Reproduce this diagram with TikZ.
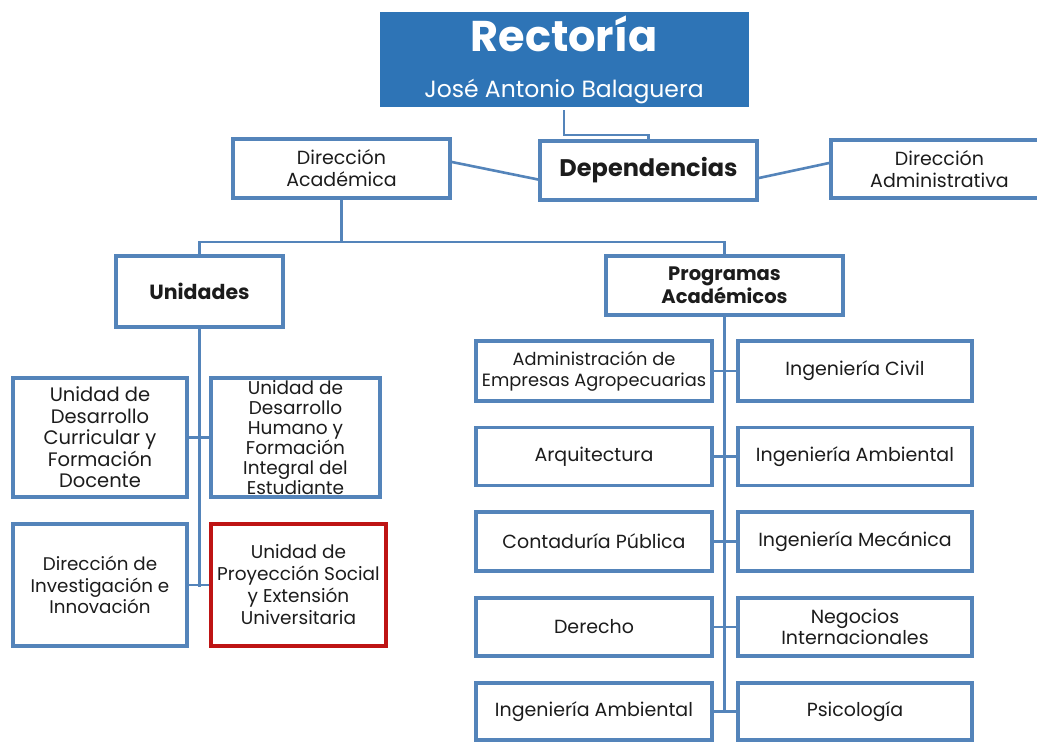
\documentclass[tikz,border=0pt]{standalone}
\usepackage{fontspec}
\setmainfont{Poppins}
\usetikzlibrary{shadows}
\definecolor{boxblue}{RGB}{84,132,186}
\definecolor{rectblue}{RGB}{46,116,182}
\definecolor{redbox}{RGB}{190,20,20}
\definecolor{txt}{RGB}{28,28,28}
\tikzset{
  box/.style={draw=boxblue, line width=3.8pt, fill=white, inner sep=1pt, align=center,
    text=txt, font=\fontsize{19}{21}\selectfont,
    drop shadow={shadow xshift=1.2pt, shadow yshift=-1.5pt, opacity=0.25, fill=black!60}},
  link/.style={draw=boxblue, line width=2.6pt},
}
\begin{document}
\begin{tikzpicture}[x=1pt,y=-1pt]
\fill[white] (0,0) rectangle (1037,742);
\useasboundingbox (0,0) rectangle (1037,742);

% connectors (behind boxes)
\coordinate (rbend) at (564,135);
\coordinate (hub) at (341.5,242);
\coordinate (uend) at (199.5,587);
\coordinate (pend) at (724.5,711.5);
\coordinate (rs) at (564,108);
\coordinate (dn) at (648.5,141);
\coordinate (dcs) at (341.5,198);
\coordinate (un) at (199.5,256);
\coordinate (pn) at (724.5,256);
\path[link] (rs) -- (rbend) -| (dn);
\path[link] (dcs) -- (hub);
\path[link] (un) |- (hub) -| (pn);
\path[link] (un) -- (uend);
\path[link] (pn) -- (pend);

% top
\node[draw=white, line width=3pt, fill=rectblue, minimum width=372pt, minimum height=98pt,
  inner sep=0pt, drop shadow={shadow xshift=1.2pt, shadow yshift=-1.5pt, opacity=0.3, fill=black!60}]
  (rect) at (564,59) {};
\node[anchor=base, text=white, font=\fontsize{43}{46}\selectfont\bfseries, inner sep=0pt] (rt) at (564,51) {Rectoría};
\node[anchor=base, text=white, font=\fontsize{23.5}{26}\selectfont, inner sep=0pt] (rn) at (564,97) {José Antonio Balaguera};

\node[box, minimum width=217pt, minimum height=59pt, font=\fontsize{24}{27}\selectfont\bfseries] (dep) at (648.5,170.5) {Dependencias};
\node[box, minimum width=217pt, minimum height=59pt, font=\fontsize{19}{22}\selectfont] (dacad) at (341.5,168.5) {Dirección\\Académica};
\node[box, minimum width=217pt, minimum height=58pt, font=\fontsize{19}{22}\selectfont] (dadm) at (939.5,169) {Dirección\\Administrativa};

\node[box, minimum width=167pt, minimum height=71pt, font=\fontsize{20.5}{23}\selectfont\bfseries] (unid) at (199.5,291.5) {Unidades};
\node[box, minimum width=237pt, minimum height=59pt, font=\fontsize{19.5}{21.5}\selectfont\bfseries] (prog) at (724.5,285.5) {Programas\\Académicos};

% unidades
\node[box, minimum width=174pt, minimum height=119pt, font=\fontsize{19.5}{21.5}\selectfont] (u1) at (100,437.5) {Unidad de\\Desarrollo\\Curricular y\\Formación\\Docente};
\node[box, minimum width=169pt, minimum height=119pt, font=\fontsize{18.5}{20}\selectfont] (u2) at (295.5,437.5) {Unidad de\\Desarrollo\\Humano y\\Formación\\Integral del\\Estudiante};
\node[box, minimum width=174pt, minimum height=122pt, font=\fontsize{18.3}{21.5}\selectfont] (u3) at (100,585) {Dirección de\\Investigación e\\Innovación};
\node[box, draw=redbox, minimum width=175pt, minimum height=122pt, font=\fontsize{18.5}{22}\selectfont] (u4) at (298.5,585) {Unidad de\\Proyección Social\\y Extensión\\Universitaria};

% programas
\node[box, minimum width=236pt, minimum height=60pt, font=\fontsize{17.8}{21}\selectfont] (p1l) at (594,371) {Administración de\\Empresas Agropecuarias};
\node[box, minimum width=234pt, minimum height=60pt] (p1r) at (855,371) {Ingeniería Civil};
\node[box, minimum width=236pt, minimum height=58pt] (p2l) at (594,456.5) {Arquitectura};
\node[box, minimum width=234pt, minimum height=58pt] (p2r) at (855,456.5) {Ingeniería Ambiental};
\node[box, minimum width=236pt, minimum height=59pt] (p3l) at (594,541.5) {Contaduría Pública};
\node[box, minimum width=234pt, minimum height=59pt] (p3r) at (855,541.5) {Ingeniería Mecánica};
\node[box, minimum width=236pt, minimum height=58pt] (p4l) at (594,627) {Derecho};
\node[box, minimum width=234pt, minimum height=58pt] (p4r) at (855,627) {Negocios\\Internacionales};
\node[box, minimum width=236pt, minimum height=57pt] (p5l) at (594,711.5) {Ingeniería Ambiental};
\node[box, minimum width=234pt, minimum height=57pt] (p5r) at (855,711.5) {Psicología};

% connectors between named nodes
\path[link] ([yshift=6.5pt]dacad.east) -- ([yshift=-9pt]dep.west);
\path[link] ([yshift=-7.5pt]dep.east) -- ([yshift=6pt]dadm.west);
\path[link] (u1.east) -- (u2.west);
\path[link] (u3.east) -- (u4.west);
\foreach \i in {1,...,5}{\path[link] (p\i l.east) -- (p\i r.west);}
\end{tikzpicture}
\end{document}
